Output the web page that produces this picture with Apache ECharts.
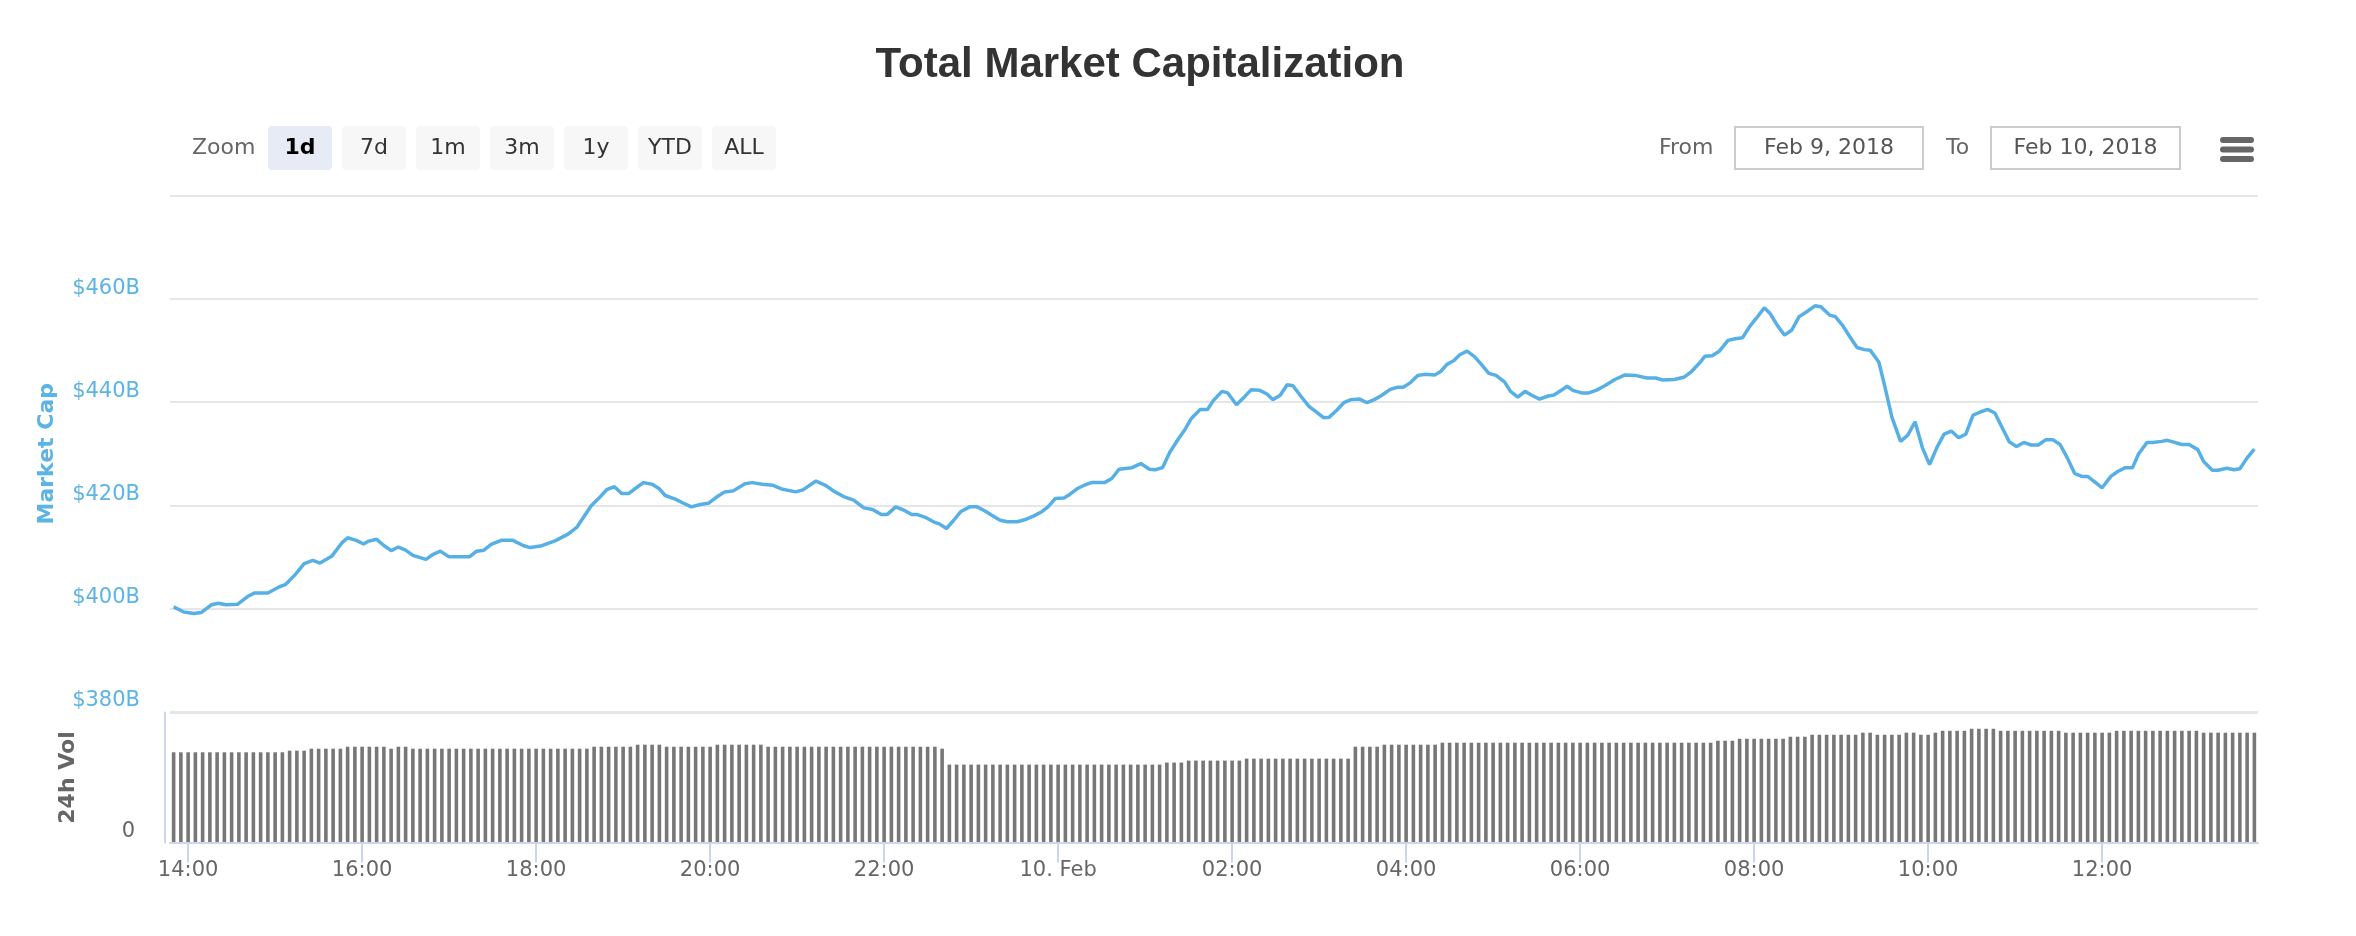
<!DOCTYPE html>
<html><head><meta charset="utf-8">
<script src="https://cdn.jsdelivr.net/npm/echarts@6/dist/echarts.min.js"></script>
<style>html,body{margin:0;padding:0;background:#fff}#c{width:2356px;height:936px}</style>
</head><body><div id="c"></div>
<script>
const chartTitle = 'Total Market Capitalization';
const capAxisName = 'Market Cap';
const volAxisName = '24h Vol';
const capTickLabels = ['$380B', '$400B', '$420B', '$440B', '$460B'];
const rangeButtons = ['1d', '7d', '1m', '3m', '1y', 'YTD', 'ALL'];
const fromDate = 'Feb 9, 2018';
const toDate = 'Feb 10, 2018';

// Market cap line: minutes after Feb 9 13:50 (UTC) and value in $B
const capMinutes = [0,7,14,19,26,31,36,44,51,56,65,73,77,84,90,96,101,109,116,120,
126,131,134,140,145,150,155,160,165,174,179,184,190,204,209,214,219,226,234,241,
246,253,263,272,278,282,288,293,299,304,309,314,320,324,330,335,339,346,351,357,
364,369,374,380,386,394,399,406,413,420,429,434,443,450,455,462,469,476,482,488,
492,498,504,509,513,519,524,528,533,538,543,549,554,559,564,570,575,582,588,593,
599,603,608,614,618,623,628,633,642,647,652,661,667,673,677,682,687,693,697,702,
708,713,717,723,727,733,737,743,749,754,758,763,768,772,777,783,788,793,797,802,
807,812,818,823,828,833,839,844,848,853,858,863,870,874,878,883,887,892,897,902,
907,912,918,922,927,932,937,942,948,952,957,961,965,971,976,981,987,994,1001,1008,
1016,1022,1027,1035,1042,1047,1052,1056,1061,1066,1072,1077,1082,1087,1091,1097,1101,1106,1111,1116,
1121,1126,1132,1136,1142,1146,1151,1156,1161,1166,1170,1176,1180,1185,1191,1196,1201,1206,1211,1216,
1221,1226,1231,1236,1241,1246,1251,1256,1261,1266,1271,1276,1281,1286,1291,1296,1301,1306,1311,1316,
1320,1326,1330,1336,1341,1346,1351,1355,1361,1365,1371,1375,1380,1385,1390,1396,1400,1406,1410,1416,
1421,1425,1430,1435];
const capValues = [400.3,399.3,399.0,399.2,400.7,401.0,400.7,400.8,402.3,403.0,
403.0,404.2,404.6,406.6,408.7,409.3,408.8,410.1,412.7,413.7,
413.2,412.5,413.0,413.4,412.2,411.2,411.9,411.3,410.3,409.5,
410.5,411.1,410.0,410.0,411.1,411.3,412.4,413.2,413.2,412.2,
411.8,412.1,413.1,414.4,415.7,417.4,419.9,421.3,423.1,423.6,
422.3,422.3,423.6,424.4,424.1,423.2,421.9,421.2,420.5,419.7,
420.2,420.4,421.5,422.6,422.8,424.2,424.4,424.1,423.9,423.1,
422.6,423.0,424.7,423.8,422.8,421.7,421.0,419.5,419.2,418.2,
418.2,419.7,419.0,418.2,418.2,417.6,416.8,416.4,415.5,417.1,
418.8,419.7,419.7,419.0,418.1,417.1,416.8,416.8,417.3,417.9,
418.8,419.7,421.3,421.4,422.1,423.2,423.9,424.4,424.4,425.2,
427.0,427.3,428.1,427.0,426.9,427.3,430.3,432.9,434.5,436.9,
438.6,438.6,440.3,442.1,441.8,439.5,440.6,442.4,442.3,441.6,
440.5,441.3,443.4,443.2,441.3,439.2,438.1,437.0,437.1,438.4,
439.9,440.5,440.6,439.9,440.5,441.3,442.5,442.9,442.9,443.8,
445.2,445.4,445.3,446.0,447.3,448.1,449.2,449.9,448.9,447.3,
445.6,445.2,443.9,442.1,441.0,442.1,441.3,440.6,441.2,441.4,
442.3,443.1,442.3,441.8,441.8,442.3,443.2,444.4,445.3,445.2,
444.7,444.7,444.3,444.4,444.9,446.0,447.5,448.9,449.0,449.9,
452.0,452.3,452.5,454.7,456.1,458.3,457.2,454.9,453.0,454.0,
456.6,457.5,458.7,458.5,456.9,456.6,454.9,452.7,450.6,450.2,
450.1,447.8,443.2,437.1,432.4,433.6,436.2,431.2,427.9,431.2,
433.8,434.4,433.1,433.8,437.5,438.1,438.6,437.9,435.1,432.3,
431.4,432.2,431.7,431.7,432.7,432.7,431.8,429.2,426.2,425.6,
425.6,424.3,423.4,425.6,426.6,427.3,427.3,429.9,432.2,432.2,
432.4,432.6,432.2,431.8,431.8,430.8,428.5,426.8,426.8,427.2,
426.9,427.1,429.2,430.9];

// 24h volume ($B), one bar every 5 minutes from Feb 9 13:50 (one row per hour)
const volValues = [
17.35,17.35,17.35,17.35,17.35,17.35,17.35,17.35,17.35,17.35,17.35,17.35,
17.35,17.35,17.35,17.35,17.66,17.66,17.66,18.04,18.04,18.04,18.04,18.04,
18.42,18.42,18.42,18.42,18.42,18.42,18.04,18.42,18.42,18.04,18.04,18.04,
18.04,18.04,18.04,18.04,18.04,18.04,18.04,18.04,18.04,18.04,18.04,18.04,
18.04,18.04,18.04,18.04,18.04,18.04,18.04,18.04,18.04,18.04,18.42,18.42,
18.42,18.42,18.42,18.42,18.81,18.81,18.81,18.81,18.42,18.42,18.42,18.42,
18.42,18.42,18.42,18.81,18.81,18.81,18.81,18.81,18.81,18.81,18.42,18.42,
18.42,18.42,18.42,18.42,18.42,18.42,18.42,18.42,18.42,18.42,18.42,18.42,
18.42,18.42,18.42,18.42,18.42,18.42,18.42,18.42,18.42,18.42,18.04,14.98,
14.98,14.98,14.98,14.98,14.98,14.98,14.98,14.98,14.98,14.98,14.98,14.98,
14.98,14.98,14.98,14.98,14.98,14.98,14.98,14.98,14.98,14.98,14.98,14.98,
14.98,14.98,14.98,14.98,14.98,15.37,15.37,15.37,15.75,15.75,15.75,15.75,
15.75,15.75,15.75,15.75,16.13,16.13,16.13,16.13,16.13,16.13,16.13,16.13,
16.13,16.13,16.13,16.13,16.13,16.13,16.13,18.42,18.42,18.42,18.42,18.81,
18.81,18.81,18.81,18.81,18.81,18.81,18.81,19.19,19.19,19.19,19.19,19.19,
19.19,19.19,19.19,19.19,19.19,19.19,19.19,19.19,19.19,19.19,19.19,19.19,
19.19,19.19,19.19,19.19,19.19,19.19,19.19,19.19,19.19,19.19,19.19,19.19,
19.19,19.19,19.19,19.19,19.19,19.19,19.19,19.19,19.19,19.57,19.57,19.57,
19.95,19.95,19.95,19.95,19.95,19.95,19.95,20.34,20.34,20.34,20.72,20.72,
20.72,20.72,20.72,20.72,20.72,21.12,21.12,20.72,20.72,20.72,20.72,21.12,
21.12,20.72,20.72,21.12,21.48,21.48,21.48,21.48,21.87,21.87,21.87,21.87,
21.48,21.48,21.48,21.48,21.48,21.48,21.48,21.48,21.48,21.12,21.12,21.12,
21.12,21.12,21.12,21.12,21.48,21.48,21.48,21.48,21.48,21.48,21.48,21.48,
21.48,21.48,21.48,21.48,21.12,21.12,21.12,21.12,21.12,21.12,21.12,21.12];

const startTime = Date.UTC(2018, 1, 9, 13, 50);
const stepMs = 5 * 60 * 1000;
const categories = volValues.map((_, i) => new Date(startTime + i * stepMs).toISOString().slice(0, 16));

function isEvenHour(index, value) {
  const h = +value.slice(11, 13), m = +value.slice(14, 16);
  return m === 0 && h % 2 === 0;
}
function hourLabel(value) {
  const h = value.slice(11, 13);
  if (h === '00') return (+value.slice(8, 10)) + '. Feb';
  return h + ':00';
}

const BLUE = '#5bb3e6';
const LABEL_FONT = 'DejaVu Sans';

const graphics = [];
graphics.push({ type: 'text', x: 1140, y: 65, style: { text: chartTitle, fill: '#333333', font: 'bold 42px "Liberation Sans", Arial, sans-serif', textAlign: 'center', textVerticalAlign: 'middle' } });
graphics.push({ type: 'text', x: 192, y: 148, style: { text: 'Zoom', fill: '#666666', font: '22px "DejaVu Sans"', textAlign: 'left', textVerticalAlign: 'middle' } });
rangeButtons.forEach((b, i) => {
  const x = 268 + i * 74;
  graphics.push({ type: 'rect', x: x, y: 126, shape: { width: 64, height: 44, r: 4 }, style: { fill: i === 0 ? '#e6ebf5' : '#f7f7f7' } });
  graphics.push({ type: 'text', x: x + 32, y: 148, style: { text: b, fill: i === 0 ? '#000000' : '#333333', font: (i === 0 ? 'bold ' : '') + '22px "DejaVu Sans"', textAlign: 'center', textVerticalAlign: 'middle' } });
});
graphics.push({ type: 'text', x: 1659, y: 148, style: { text: 'From', fill: '#666666', font: '22px "DejaVu Sans"', textAlign: 'left', textVerticalAlign: 'middle' } });
graphics.push({ type: 'rect', x: 1735, y: 127, shape: { width: 188, height: 42 }, style: { fill: '#ffffff', stroke: '#cccccc', lineWidth: 2 } });
graphics.push({ type: 'text', x: 1829, y: 148, style: { text: fromDate, fill: '#555555', font: '22px "DejaVu Sans"', textAlign: 'center', textVerticalAlign: 'middle' } });
graphics.push({ type: 'text', x: 1946, y: 148, style: { text: 'To', fill: '#666666', font: '22px "DejaVu Sans"', textAlign: 'left', textVerticalAlign: 'middle' } });
graphics.push({ type: 'rect', x: 1991, y: 127, shape: { width: 189, height: 42 }, style: { fill: '#ffffff', stroke: '#cccccc', lineWidth: 2 } });
graphics.push({ type: 'text', x: 2085.5, y: 148, style: { text: toDate, fill: '#555555', font: '22px "DejaVu Sans"', textAlign: 'center', textVerticalAlign: 'middle' } });
[137, 146.5, 156].forEach(y => {
  graphics.push({ type: 'rect', x: 2220, y: y, shape: { width: 34, height: 6, r: 3 }, style: { fill: '#666666' } });
});

const option = {
  animation: false,
  backgroundColor: '#ffffff',
  graphic: graphics,
  grid: [
    { left: 170, right: 98, top: 196, height: 515.5 },
    { left: 170, right: 98, top: 712.5, height: 130 }
  ],
  xAxis: [
    { gridIndex: 0, type: 'value', min: -2.5, max: 1437.5, show: false },
    { gridIndex: 1, type: 'category', data: categories, boundaryGap: true, z: 3,
      axisLine: { show: true, lineStyle: { color: '#ccd6eb', width: 2 } },
      axisTick: { show: true, interval: isEvenHour, alignWithLabel: true, length: 20, lineStyle: { color: '#ccd6eb', width: 2 } },
      axisLabel: { interval: isEvenHour, formatter: hourLabel, color: '#666666', fontSize: 21, fontFamily: LABEL_FONT, margin: 18 },
      splitLine: { show: false } }
  ],
  yAxis: [
    { gridIndex: 0, type: 'value', min: 380, max: 480, interval: 20,
      axisLine: { show: false }, axisTick: { show: false },
      splitLine: { show: true, lineStyle: { color: '#e6e6e6', width: 2 } },
      axisLabel: { formatter: v => capTickLabels[(v - 380) / 20] || '', color: BLUE, fontSize: 21, fontFamily: LABEL_FONT, margin: 30, verticalAlign: 'bottom' },
      name: capAxisName, nameLocation: 'middle', nameGap: 112,
      nameTextStyle: { color: BLUE, fontWeight: 'bold', fontSize: 22, fontFamily: LABEL_FONT } },
    { gridIndex: 1, type: 'value', min: 0, max: 25, interval: 25, offset: 5,
      axisLine: { show: true, lineStyle: { color: '#ccd6eb', width: 2 } }, axisTick: { show: false },
      splitLine: { show: true, lineStyle: { color: '#e6e6e6', width: 2 } },
      axisLabel: { formatter: v => v === 0 ? '0' : '', color: '#666666', fontSize: 21, fontFamily: LABEL_FONT, margin: 30, verticalAlign: 'bottom' },
      name: volAxisName, nameLocation: 'middle', nameGap: 86,
      nameTextStyle: { color: '#666666', fontWeight: 'bold', fontSize: 22, fontFamily: LABEL_FONT } }
  ],
  series: [
    { type: 'line', xAxisIndex: 0, yAxisIndex: 0, data: capMinutes.map((m, i) => [m, capValues[i]]),
      showSymbol: false, symbol: 'none', lineStyle: { color: '#56b0e6', width: 3.5 }, z: 3 },
    { type: 'bar', xAxisIndex: 1, yAxisIndex: 1, data: volValues, barWidth: 3.6,
      itemStyle: { color: '#777777' } }
  ]
};
const chart = echarts.init(document.getElementById('c'), null, { renderer: 'canvas' });
chart.setOption(option);
</script>
</body></html>
